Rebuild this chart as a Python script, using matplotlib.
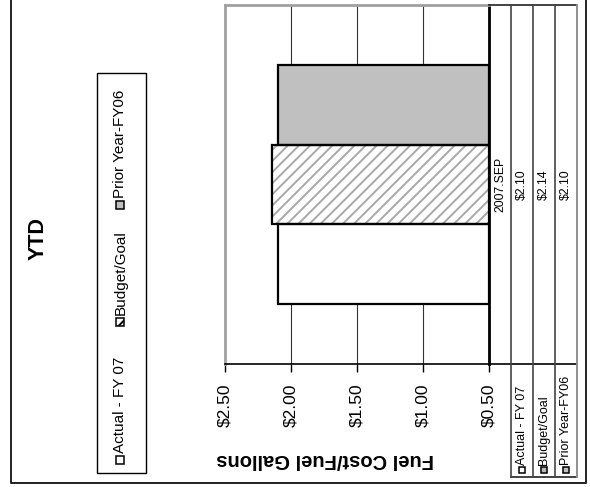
import matplotlib
matplotlib.use("Agg")
import matplotlib.pyplot as plt
from matplotlib.patches import Rectangle

plt.rcParams['font.family'] = ['Liberation Sans', 'DejaVu Sans']
plt.rcParams['hatch.linewidth'] = 1.4
plt.rcParams['hatch.color'] = '#a8a8a8'

# ---- data ----
title = "YTD"
value_label = "Fuel Cost/Fuel Gallons"
categories = ["2007.SEP"]
series_names = ["Actual - FY 07", "Budget/Goal", "Prior Year-FY06"]
actual = [2.10]
budget = [2.14]
prior = [2.10]
tick_values = [0.5, 1.0, 1.5, 2.0, 2.5]
tick_labels = ["$0.50", "$1.00", "$1.50", "$2.00", "$2.50"]

series_values = [actual, budget, prior]
face_colors = ["white", "white", "#c0c0c0"]
hatches = [None, "///", None]

W, H = 590, 487
fig = plt.figure(figsize=(W / 100, H / 100), dpi=100)


def fx(px):
    return px / W


def fy(py):
    return 1 - py / H


# plot area (value axis runs right-to-left, bars grow leftward from $0.50)
left, right, top, bottom = 225, 488.5, 5, 364
ax = fig.add_axes([fx(left), fy(bottom), fx(right) - fx(left), fy(top) - fy(bottom)])
base = tick_values[0]
ax.set_xlim(tick_values[-1], base)
ax.set_ylim(-0.5, 0.5)

bw = 1 / (len(series_names) + 1.5)
for i, (name, vals) in enumerate(zip(series_names, series_values)):
    offs = (i - 1) * bw
    for c, v in enumerate(vals):
        ax.barh(c + offs, v - base, left=base, height=bw, color=face_colors[i],
                hatch=hatches[i], edgecolor='#a8a8a8' if hatches[i] else 'none',
                linewidth=0, zorder=2)
        ax.barh(c + offs, v - base, left=base, height=bw, fill=False,
                edgecolor='black', linewidth=1.6, zorder=3)

ax.set_xticks(tick_values)
ax.set_xticklabels(tick_labels, rotation=90, fontsize=12.5)
ax.tick_params(axis='x', direction='out', length=6, width=1, pad=8, color='black')
ax.set_yticks([])
ax.grid(axis='x', color='#333333', linewidth=0.8, zorder=1)
ax.set_axisbelow(True)
for s in ('left', 'top'):
    ax.spines[s].set_color('#a0a0a0')
    ax.spines[s].set_linewidth(2)
ax.spines['right'].set_color('black')
ax.spines['right'].set_linewidth(2)
ax.spines['bottom'].set_color('black')
ax.spines['bottom'].set_linewidth(1.2)

# overlay in pixel coordinates for table, legend and frame
ov = fig.add_axes([0, 0, 1, 1], zorder=5)
ov.set_xlim(0, W)
ov.set_ylim(H, 0)
ov.axis('off')
ov.patch.set_alpha(0)

# outer frame
ov.plot([10.7, 10.7, 586, 586], [-2, 483, 483, -2], color='#222222', lw=1.4)

# data table
col_x = [489, 511, 533, 555, 576.5]
tbl_bottom = 477
ov.plot([col_x[0], col_x[-1]], [top, top], color='#222222', lw=1.2)
ov.plot([right, col_x[-1]], [bottom, bottom], color='black', lw=1.2)
ov.plot([col_x[1], col_x[-1]], [tbl_bottom, tbl_bottom], color='#222222', lw=1.2)
for x in col_x[1:-1]:
    ov.plot([x, x], [top, tbl_bottom], color='#444444', lw=1.2)
ov.plot([col_x[-1], col_x[-1]], [top, tbl_bottom], color='#909090', lw=1.4)

cat_center = (top + bottom) / 2
for c, cat in enumerate(categories):
    ov.text((col_x[0] + col_x[1]) / 2, cat_center, cat, rotation=90,
            ha='center', va='center', fontsize=8.8)
    for i, vals in enumerate(series_values):
        ov.text((col_x[i + 1] + col_x[i + 2]) / 2, cat_center, f"${vals[c]:.2f}",
                rotation=90, ha='center', va='center', fontsize=8.8)

key_fill = ["white", "#b8b8b8", "#c0c0c0"]
for i, name in enumerate(series_names):
    cx = (col_x[i + 1] + col_x[i + 2]) / 2
    ov.add_patch(Rectangle((cx - 3, 467), 6, 6, facecolor=key_fill[i],
                           edgecolor='black', lw=1.1))
    ov.text(cx, 465, name, rotation=90, ha='center', va='bottom', fontsize=9)

# legend
ov.add_patch(Rectangle((97, 72.7), 49, 400.5, facecolor='white',
                       edgecolor='black', lw=1.0))
leg_keys = [460, 322, 205]
for i, name in enumerate(series_names):
    ky = leg_keys[i]
    ov.add_patch(Rectangle((116, ky - 4), 8, 8, facecolor=face_colors[i],
                           hatch=hatches[i], edgecolor='black', lw=1.1))
    ov.text(120.5, ky - 7, name, rotation=90, ha='center', va='bottom', fontsize=11)

# titles
ov.text(38, 238, title, rotation=90, ha='center', va='center',
        fontsize=15.5, fontweight='bold')
ov.text(325, 459, value_label, rotation=180, ha='center', va='center',
        fontsize=14.5, fontweight='bold')

fig.savefig("out.png", dpi=100)
